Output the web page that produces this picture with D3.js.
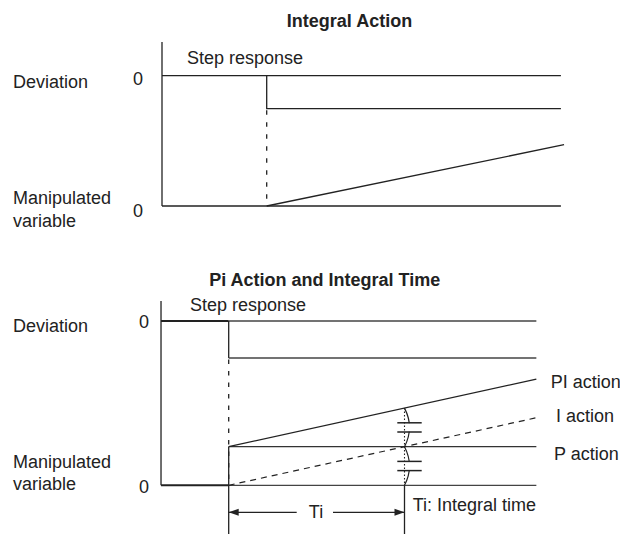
<!DOCTYPE html>
<html>
<head>
<meta charset="utf-8">
<script src="https://cdn.jsdelivr.net/npm/d3@7"></script>
<style>
  html, body { margin: 0; padding: 0; background: #fff; }
  svg { display: block; }
  text { font-family: "Liberation Sans", Arial, sans-serif; fill: #222; }
</style>
</head>
<body>
<svg id="chart" width="620" height="534"></svg>
<script>
// Panel titles and row labels
const panelTitles = ["Integral Action", "Pi Action and Integral Time"];
const rowLabels = ["Deviation", ["Manipulated", "variable"]];
const zeroLabel = "0";
const stepLabel = "Step response";

// Time values (step applied at t = 0, integral time Ti = 1)
const topTime = [-1, 0, 2.81];          // axis start, step, end of traces
const topRampEnd = 2.84;                // integral output keeps rising slightly past the end
const botTime = [-0.385, 0, 1.75];      // axis start, step, end of traces
const Ti = 1;

// Signal levels
const deviationStep = [0, -1];          // deviation before / after the step
const topIntegral = [[0, 0], [topRampEnd, topRampEnd]];           // I output = t / Ti
const pAction = [[0, 1], [1.75, 1]];                                // P output = constant
const iAction = [[0, 0], [1.75, 1.75]];                             // I output = t / Ti
const piAction = [[0, 1], [1.75, 2.75]];                            // PI = P + I
const actionLabels = ["PI action", "I action", "P action"];
const tiLabel = "Ti";
const tiNote = "Ti: Integral time";

const svg = d3.select("#chart");
const ink = "#222";
const line = d3.line();

function seg(g, pts, opts = {}) {
  return g.append("path")
    .attr("d", line(pts))
    .attr("fill", "none")
    .attr("stroke", opts.color || ink)
    .attr("stroke-width", opts.width || 1.3)
    .attr("stroke-dasharray", opts.dash || null);
}

function label(g, x, y, txt, opts = {}) {
  return g.append("text")
    .attr("x", x).attr("y", y)
    .attr("font-size", opts.size || 18)
    .attr("font-weight", opts.bold ? "bold" : null)
    .attr("text-anchor", opts.anchor || "start")
    .text(txt);
}

// ---------- Panel 1: Integral Action ----------
{
  const g = svg.append("g");
  const x = d3.scaleLinear().domain([topTime[0], topTime[1]]).range([162, 266.7]);
  const yDev = d3.scaleLinear().domain([0, -1]).range([75.7, 108.7]);
  const yMv = d3.scaleLinear().domain([0, 1]).range([206, 184.4]);

  label(g, 349.5, 26.7, panelTitles[0], { bold: true, anchor: "middle" });
  label(g, 187, 64.3, stepLabel);
  label(g, 13, 88.3, rowLabels[0]);
  label(g, 13, 204, rowLabels[1][0]);
  label(g, 13, 226.7, rowLabels[1][1]);
  label(g, 143, 85, zeroLabel, { anchor: "end" });
  label(g, 143, 216.7, zeroLabel, { anchor: "end" });

  // vertical axis
  seg(g, [[x(topTime[0]), 42], [x(topTime[0]), yMv(0)]]);
  // deviation zero line and step
  seg(g, [[x(topTime[0]), yDev(0)], [x(topTime[2]), yDev(0)]]);
  seg(g, [[x(topTime[1]), yDev(deviationStep[0])], [x(topTime[1]), yDev(deviationStep[1])], [x(topTime[2]), yDev(deviationStep[1])]]);
  // step instant guide
  seg(g, [[x(topTime[1]), yDev(deviationStep[1]) + 1.5], [x(topTime[1]), yMv(0)]], { dash: "4.5,7.5" });
  // manipulated variable zero line and integral ramp
  seg(g, [[x(topTime[0]), yMv(0)], [x(topTime[2]), yMv(0)]]);
  seg(g, topIntegral.map(d => [x(d[0]), yMv(d[1])]));
}

// ---------- Panel 2: PI Action and Integral Time ----------
{
  const g = svg.append("g");
  const x = d3.scaleLinear().domain([0, Ti]).range([228.7, 404.5]);
  const yDev = d3.scaleLinear().domain([0, -1]).range([321, 358]);
  const yMv = d3.scaleLinear().domain([0, 1]).range([485.3, 446.7]);
  const x0 = x(botTime[0]), xs = x(botTime[1]), xe = x(botTime[2]), xt = x(Ti);

  label(g, 324.7, 286, panelTitles[1], { bold: true, anchor: "middle" });
  label(g, 190, 311, stepLabel);
  label(g, 13, 331.7, rowLabels[0]);
  label(g, 13, 468.3, rowLabels[1][0]);
  label(g, 13, 490, rowLabels[1][1]);
  label(g, 149, 328.3, zeroLabel, { anchor: "end" });
  label(g, 149, 493.3, zeroLabel, { anchor: "end" });

  // vertical axis
  seg(g, [[x0, 301], [x0, yMv(0)]]);
  // deviation: heavier pre-step segment, lighter reference continuation
  seg(g, [[x0, yDev(0)], [xs, yDev(0)]], { width: 2 });
  seg(g, [[xs, yDev(0)], [xe, yDev(0)]], { color: "#444" });
  seg(g, [[xs, yDev(0)], [xs, yDev(-1)]]);
  seg(g, [[xs, yDev(-1)], [xe, yDev(-1)]], { color: "#444" });
  // step instant guide
  seg(g, [[xs, yDev(-1) + 1.5], [xs, yMv(0)]], { dash: "4.5,7" });
  // manipulated variable zero line
  seg(g, [[x0, yMv(0)], [xs, yMv(0)]], { width: 2 });
  seg(g, [[xs, yMv(0)], [xe, yMv(0)]], { color: "#444" });
  // P action step and level
  seg(g, [[xs, yMv(1)], [xs, 534]]);
  seg(g, pAction.map(d => [x(d[0]), yMv(d[1])]), { color: "#333" });
  // I action ramp (dashed) and PI action
  seg(g, iAction.map(d => [x(d[0]), yMv(d[1])]), { dash: "6,5", width: 1.2 });
  seg(g, piAction.map(d => [x(d[0]), yMv(d[1])]));

  // Integral-time markers: equal-length braces between PI/P and P/zero
  const piAtTi = yMv(piAction[0][1] + Ti), pLvl = yMv(1), zLvl = yMv(0);
  [[piAtTi, pLvl], [pLvl, zLvl]].forEach(([a, b]) => {
    const mid = (a + b) / 2;
    g.append("path")
      .attr("d", `M${xt},${a} Q${xt + 10},${mid} ${xt},${b}`)
      .attr("fill", "none").attr("stroke", ink).attr("stroke-width", 1.2);
    g.append("rect")
      .attr("x", xt - 8).attr("y", mid - 4.2)
      .attr("width", 26).attr("height", 8.4)
      .attr("fill", "#fff");
    [mid - 4.6, mid + 4.6].forEach(yy =>
      seg(g, [[xt - 7.2, yy], [xt + 17.2, yy]], { width: 1.5 }));
  });
  seg(g, [[xt, piAtTi], [xt, zLvl]], { dash: "1.5,2", width: 1.1 });
  seg(g, [[xt, zLvl], [xt, 534]]);

  // Ti dimension arrow
  const ya = 512.3;
  seg(g, [[xs, ya], [296.7, ya]]);
  seg(g, [[333, ya], [xt, ya]]);
  g.append("path").attr("d", `M${xs},${ya} l10,-3.5 l0,7 z`).attr("fill", ink);
  g.append("path").attr("d", `M${xt},${ya} l-10,-3.5 l0,7 z`).attr("fill", ink);
  label(g, 316, 518.3, tiLabel, { anchor: "middle" });
  label(g, 412.7, 510.7, tiNote);

  // trace labels
  label(g, 550.7, 388.3, actionLabels[0]);
  label(g, 556, 421.7, actionLabels[1]);
  label(g, 554, 460, actionLabels[2]);
}
</script>
</body>
</html>
